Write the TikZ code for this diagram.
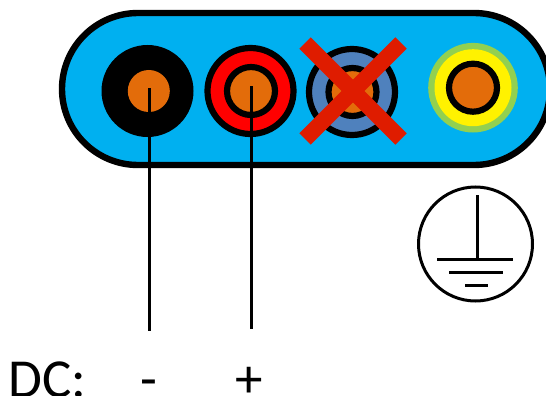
\documentclass[tikz,border=0pt]{standalone}
\usepackage{fontspec}
\setmainfont{Carlito}
\definecolor{pillblue}{HTML}{00B0F0}
\definecolor{coreorange}{HTML}{E36C0A}
\definecolor{ringblue}{HTML}{4F81BD}
\definecolor{ringgreen}{HTML}{92D050}
\definecolor{crossred}{HTML}{DF1C00}
\tikzset{
  disc/.style={circle,inner sep=0pt,outer sep=0pt,minimum size=#1*2pt},
  ringed/.style={draw=black,line width=6.2pt},
  wire/.style={draw=black,line width=3pt},
  gnd/.style={draw=black,line width=3pt},
  lbl/.style={inner sep=0pt,anchor=base,font=\fontsize{55}{55}\selectfont}
}
\begin{document}
\begin{tikzpicture}[x=1pt,y=-1pt]
\useasboundingbox (0,0) rectangle (546,396);
\clip (0,0) rectangle (546,396);
% housing
\draw[black,line width=6.4pt,fill=pillblue,rounded corners=76pt] (62,13) rectangle (550,165);
% pin 1
\node[disc=46,fill=black] (a1) at (147.5,91) {};
\node[disc=21,fill=coreorange] (a2) at (148.8,91) {};
% pin 2
\node[disc=43,ringed,fill=red] (b1) at (250.5,91) {};
\node[disc=24,ringed,fill=coreorange] (b2) at (251,91) {};
% pin 3
\node[disc=43,ringed,fill=ringblue] (c1) at (352,92) {};
\node[disc=24,ringed,fill=coreorange] (c2) at (352.5,92) {};
% pin 4
\node[disc=44.8,fill=ringgreen] (d0) at (473,87.7) {};
\node[disc=38.5,fill=yellow] (d1) at (473,87.7) {};
\node[disc=24,ringed,fill=coreorange] (d2) at (473,87.7) {};
% cross
\coordinate (x1) at (305,43);
\coordinate (x2) at (401,139);
\coordinate (x3) at (401,43);
\coordinate (x4) at (305,139);
\draw[crossred,line width=16pt] (x1) -- (x2);
\draw[crossred,line width=16pt] (x3) -- (x4);
% wires
\coordinate (wa0) at (149.5,88);
\coordinate (wa1) at (149.5,331);
\coordinate (wb0) at (251.5,86);
\coordinate (wb1) at (251.5,329);
\draw[wire] (wa0) -- (wa1);
\draw[wire] (wb0) -- (wb1);
% earth symbol
\node[disc=57,gnd] (e) at (475.5,244) {};
\coordinate (e0) at (477,195);
\coordinate (e1) at (477,259);
\coordinate (e2) at (437,259);
\coordinate (e3) at (513,259);
\coordinate (e4) at (449,272);
\coordinate (e5) at (503,272);
\coordinate (e6) at (465,285);
\coordinate (e7) at (488,285);
\draw[gnd] (e0) -- (e1);
\draw[gnd] (e2) -- (e3);
\draw[gnd] (e4) -- (e5);
\draw[gnd] (e6) -- (e7);
% labels
\node[lbl,anchor=base west] (dc) at (8,397) {DC:};
\node[lbl] (minus) at (149,397) {-};
\node[lbl] (plus) at (249.5,397) {+};
\end{tikzpicture}
\end{document}
